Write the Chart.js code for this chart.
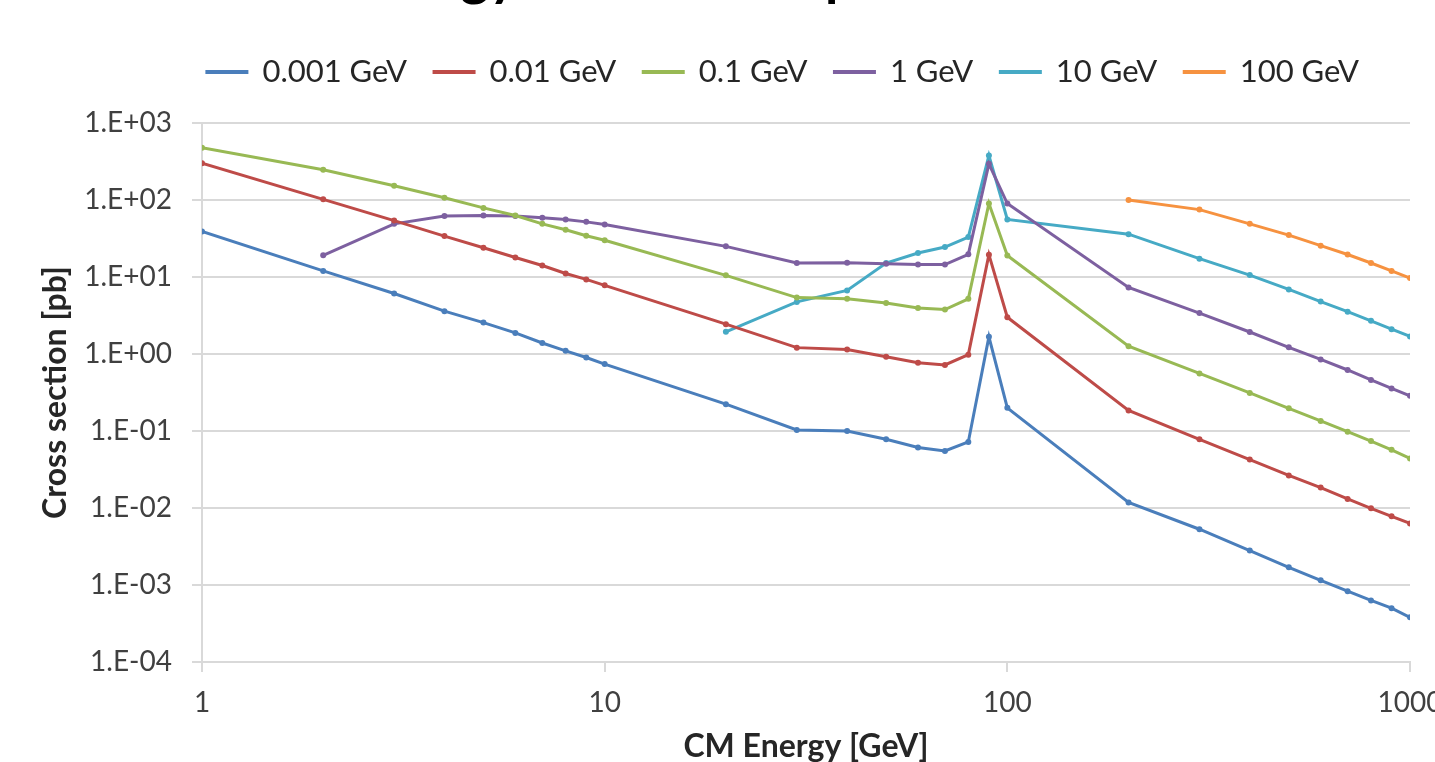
<!DOCTYPE html>
<html>
<head>
<meta charset="utf-8">
<script src="https://cdn.jsdelivr.net/npm/chart.js@4"></script>
<style>
  html, body { margin: 0; padding: 0; background: #fff; overflow: hidden; width: 1435px; height: 762px; }
  #wrap { position: absolute; left: 0; top: -56px; width: 1470px; height: 836px; }
</style>
</head>
<body>
<div id="wrap"><canvas id="xsec"></canvas></div>
<script>
//CM energy points [GeV]
var energies = [1, 2, 3, 4, 5, 6, 7, 8, 9, 10, 20, 30, 40, 50, 60, 70, 80, 90, 100, 200, 300, 400, 500, 600, 700, 800, 900, 1000];

//cross sections [pb], one list per mass
var mass0001 = [39, 12.0, 6.1, 3.6, 2.56, 1.88, 1.39, 1.10, 0.90, 0.74, 0.223, 0.103, 0.100, 0.078, 0.061, 0.055, 0.072, 1.67, 0.20, 0.0118, 0.0053, 0.0028, 0.0017, 0.00115, 0.00083, 0.00063, 0.00050, 0.00038];
var mass001 = [301, 102, 54, 34, 24, 17.9, 14.1, 11.1, 9.3, 7.8, 2.44, 1.21, 1.14, 0.92, 0.77, 0.72, 0.98, 19.5, 3.0, 0.185, 0.078, 0.0425, 0.0265, 0.0184, 0.0131, 0.0099, 0.0078, 0.0063];
var mass01 = [477, 247, 153, 107, 79, 63, 49, 41, 34.4, 30, 10.5, 5.4, 5.2, 4.6, 3.96, 3.78, 5.2, 90, 19, 1.26, 0.56, 0.312, 0.197, 0.135, 0.098, 0.074, 0.057, 0.044];
var mass1 = [null, 19.1, 49, 62, 63, 62, 59, 56, 52, 48, 25, 15.2, 15.3, 14.9, 14.5, 14.5, 19.7, 295, 90, 7.3, 3.4, 1.93, 1.22, 0.85, 0.62, 0.46, 0.357, 0.286];
var mass10 = [null, null, null, null, null, null, null, null, null, null, 1.94, 4.75, 6.7, 15.2, 20.5, 24.5, 33, 378, 56, 36, 17.3, 10.6, 6.9, 4.8, 3.55, 2.7, 2.1, 1.69];
var mass100 = [null, null, null, null, null, null, null, null, null, null, null, null, null, null, null, null, null, null, null, 100, 75, 49, 35, 25.5, 19.6, 15.2, 12, 9.7];

//series names and tick values
var seriesNames = ["0.001 GeV", "0.01 GeV", "0.1 GeV", "1 GeV", "10 GeV", "100 GeV"];
var xTicks = [1, 10, 100, 1000];
var yTicks = [1e-4, 1e-3, 1e-2, 1e-1, 1e0, 1e1, 1e2, 1e3];

var colors = ["#4a7ebb", "#be4b48", "#98b954", "#7d60a0", "#46aac5", "#f69240"];
var series = [mass0001, mass001, mass01, mass1, mass10, mass100];

Chart.defaults.font.family = "Lato";

//build one line dataset per mass
var datasets = [];
for( var i = 0; i < series.length; i++ ){
    datasets.push({
        label: seriesNames[i],
        data: series[i],
        borderColor: colors[i],
        backgroundColor: colors[i],
        borderWidth: 3,
        pointRadius: 3,
        pointBorderWidth: 0,
        pointBackgroundColor: colors[i],
        tension: 0
    });
}

//format 1e3 as 1.E+03
function sciLabel( value ){
    var e = Math.round( Math.log10( value ) );
    var s = e < 0 ? "-" : "+";
    var a = Math.abs( e );
    return "1.E" + s + ( a < 10 ? "0" + a : a );
}

//move the legend to where it sits in the original
var legendNudge = {
    id: "legendNudge",
    afterLayout: function( chart ){
        var lg = chart.legend;
        lg.top -= 25.5; lg.bottom -= 25.5;
        lg.left += 78; lg.right += 78;
    }
};

new Chart( document.getElementById("xsec"), {
    type: "line",
    data: { labels: energies, datasets: datasets },
    plugins: [ legendNudge ],
    options: {
        responsive: true,
        maintainAspectRatio: false,
        animation: false,
        layout: { padding: { left: 0, right: 60, top: 0, bottom: 0 } },
        plugins: {
            title: {
                display: true,
                text: "Energy and mass dependence",
                color: "#000",
                font: { size: 54, weight: "bold" },
                padding: { top: 1, bottom: 45.2 }
            },
            legend: {
                display: true,
                labels: {
                    boxWidth: 40,
                    boxHeight: 1,
                    padding: 27,
                    color: "#262626",
                    font: { size: 31 }
                }
            },
            tooltip: { enabled: false }
        },
        scales: {
            x: {
                type: "logarithmic",
                min: 1,
                max: 1000,
                afterBuildTicks: function( scale ){
                    scale.ticks = xTicks.map( function(v){ return { value: v }; } );
                },
                afterFit: function( scale ){ scale.height = 118; },
                grid: { drawOnChartArea: false, drawTicks: true, tickLength: 10, color: "#d9d9d9", lineWidth: 2 },
                border: { display: true, color: "#d9d9d9", width: 2 },
                ticks: {
                    autoSkip: false,
                    maxRotation: 0,
                    padding: 14,
                    color: "#404040",
                    font: { size: 28 },
                    callback: function(value){ return String( value ); }
                },
                title: {
                    display: true,
                    text: "CM Energy [GeV]",
                    color: "#262626",
                    font: { size: 32, weight: "bold" },
                    padding: { top: 0, bottom: 14 }
                }
            },
            y: {
                type: "logarithmic",
                min: 1e-4,
                max: 1e3,
                afterBuildTicks: function( scale ){
                    scale.ticks = yTicks.map( function(v){ return { value: v }; } );
                },
                afterFit: function( scale ){ scale.width = 202; },
                grid: { color: "#d9d9d9", lineWidth: 2, tickLength: 10 },
                border: { display: true, color: "#d9d9d9", width: 2 },
                ticks: {
                    padding: 20,
                    color: "#404040",
                    font: { size: 28 },
                    callback: function(value){ return sciLabel( value ); }
                },
                title: {
                    display: true,
                    text: "Cross section [pb]",
                    color: "#262626",
                    font: { size: 32, weight: "bold" },
                    padding: { top: 36, bottom: 0 }
                }
            }
        }
    }
});
</script>
</body>
</html>
